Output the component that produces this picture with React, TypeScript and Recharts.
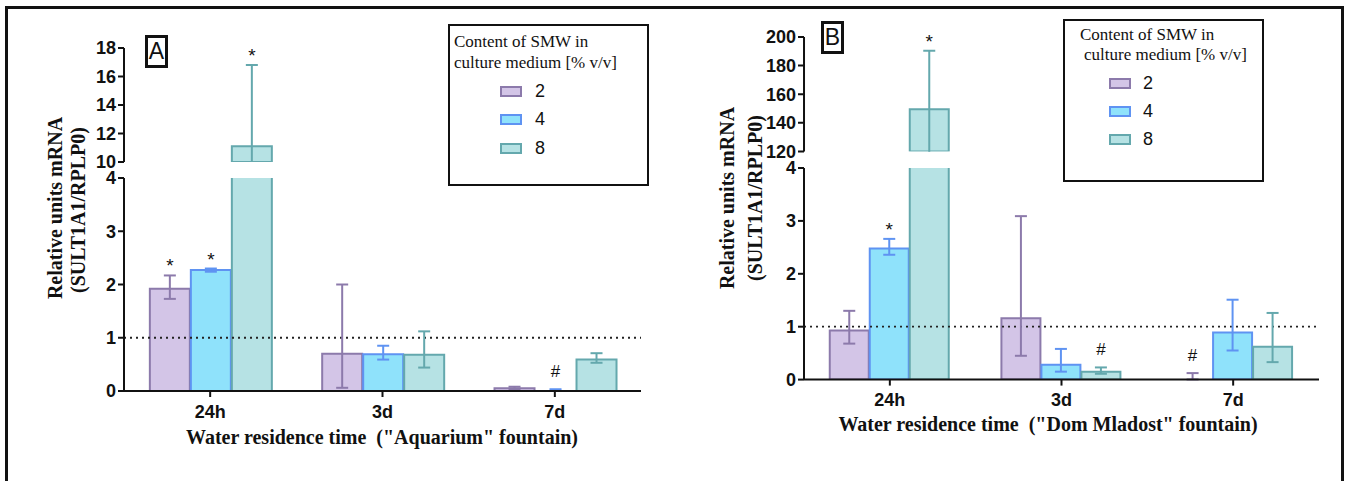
import React from 'react'
import { BarChart, Bar, XAxis, YAxis, ErrorBar, ReferenceLine, LabelList, Cell } from 'recharts'

const categories = ['24h', '3d', '7d']
const seriesNames = ['2', '4', '8']
const fills = ['#d3c5e7', '#8fe2fb', '#b6e2e4']
const strokes = ['#8c7aab', '#5f93f2', '#64a8ad']

// panel A - "Aquarium" fountain
const aMean2 = [1.92, 0.7, 0.05]
const aMean4 = [2.27, 0.69, 0.003]
const aMean8 = [11.1, 0.68, 0.59]
const aErr2 = [[0.19, 0.25], [0.64, 1.3], [0.02, 0.03]]
const aErr4 = [[0.03, 0.03], [0.1, 0.16], [0, 0.03]]
const aErr8 = [[5.7, 5.7], [0.24, 0.44], [0.06, 0.12]]
const aMarks2 = ['*', '', '']
const aMarks4 = ['*', '', '#']
const aMarks8 = ['*', '', '']
const aLowTicks = [0, 1, 2, 3, 4]
const aHighTicks = [10, 12, 14, 16, 18]

// panel B - "Dom Mladost" fountain
const bMean2 = [0.93, 1.16, 0.003]
const bMean4 = [2.48, 0.28, 0.89]
const bMean8 = [149.4, 0.15, 0.62]
const bErr2 = [[0.25, 0.37], [0.71, 1.93], [0, 0.12]]
const bErr4 = [[0.12, 0.18], [0.13, 0.3], [0.34, 0.62]]
const bErr8 = [[41, 41], [0.04, 0.08], [0.29, 0.64]]
const bMarks2 = ['', '', '#']
const bMarks4 = ['*', '', '']
const bMarks8 = ['*', '#', '']
const bLowTicks = [0, 1, 2, 3, 4]
const bHighTicks = [120, 140, 160, 180, 200]

const YW = 60
const MT = 12
const MR = 8
const MB = 12
const XH = 44

const SANS = '"Liberation Sans", Arial, sans-serif'
const SERIF = '"Liberation Serif", "Times New Roman", serif'

function buildRows(means: number[][], errs: number[][][], marks: string[][], lo: number, hi: number) {
  return categories.map((cat, i) => {
    const row: any = { cat }
    means.forEach((m, s) => {
      const v = m[i]
      const show = v >= lo
      const top = v + errs[s][i][1]
      row[`v${s}`] = show ? v : null
      row[`e${s}`] = errs[s][i]
      row[`k${s}`] = show && marks[s][i] && top >= lo && top <= hi ? { mark: marks[s][i], top } : null
    })
    return row
  })
}

function Segment({ rows, domain, ticks, top, bottom, axisX, plotRight, lower }: any) {
  const plotH = bottom - top
  const width = YW + (plotRight - axisX) + MR
  const height = MT + plotH + (lower ? XH : MB)
  const [d0, d1] = domain
  const toY = (v: number) => MT + ((d1 - v) / (d1 - d0)) * plotH
  const clip = lower
    ? undefined
    : `polygon(0 0, 100% 0, 100% ${MT + plotH}px, ${YW + 1}px ${MT + plotH}px, ${YW + 1}px 100%, 0 100%)`

  const renderMark = (p: any) => {
    const val = p.value
    if (!val || !val.mark) return null
    const vb = p.viewBox || p
    const cx = vb.x + vb.width / 2
    const y = toY(val.top)
    return (
      <text
        x={cx}
        y={val.mark === '*' ? y - 3 : y - 12}
        textAnchor="middle"
        fontSize={val.mark === '*' ? 19 : 17}
        fontFamily={SANS}
        fill="#111"
      >
        {val.mark}
      </text>
    )
  }

  const tickFont = { fill: '#111', fontSize: 18, fontWeight: 700, fontFamily: SANS }

  return (
    <div style={{ position: 'absolute', left: axisX - YW, top: top - MT, width, height, clipPath: clip }}>
      <BarChart
        width={width}
        height={height}
        data={rows}
        margin={{ top: MT, right: MR, left: 0, bottom: lower ? 0 : MB }}
        barCategoryGap="15%"
        barGap={1}
      >
        <XAxis
          dataKey="cat"
          hide={!lower}
          height={XH}
          tickSize={6}
          tickMargin={8}
          axisLine={{ stroke: '#111', strokeWidth: 2 }}
          tickLine={{ stroke: '#111', strokeWidth: 2 }}
          tick={tickFont}
        />
        <YAxis
          type="number"
          domain={domain}
          ticks={ticks}
          interval={0}
          allowDataOverflow
          width={YW}
          tickSize={6}
          axisLine={{ stroke: '#111', strokeWidth: 2 }}
          tickLine={{ stroke: '#111', strokeWidth: 2 }}
          tick={tickFont}
        />
        {lower && <ReferenceLine y={1} stroke="#222" strokeWidth={1.8} strokeDasharray="2 4" />}
        {seriesNames.map((n, s) => (
          <Bar
            key={n}
            dataKey={`v${s}`}
            name={n}
            fill={fills[s]}
            stroke={strokes[s]}
            strokeWidth={2}
            isAnimationActive={false}
          >
            {rows.map((r: any) => (
              // near-zero means: no visible outline, only the error bar shows
              <Cell key={r.cat} stroke={r[`v${s}`] != null && r[`v${s}`] < 0.01 ? 'none' : strokes[s]} />
            ))}
            <ErrorBar dataKey={`e${s}`} width={6} strokeWidth={2} stroke={strokes[s]} direction="y" />
            <LabelList dataKey={`k${s}`} content={renderMark} />
          </Bar>
        ))}
      </BarChart>
    </div>
  )
}

function Legend({ box, lines, swatchX, labelX, rowYs }: any) {
  return (
    <>
      <div
        style={{
          position: 'absolute',
          left: box[0],
          top: box[1],
          width: box[2],
          height: box[3],
          border: '2px solid #111',
          boxSizing: 'border-box',
        }}
      />
      {lines.map((l: any) => (
        <div
          key={l.text}
          style={{
            position: 'absolute',
            left: l.x,
            top: l.y - 10,
            lineHeight: '20px',
            fontSize: 17,
            fontFamily: SERIF,
            color: '#111',
            whiteSpace: 'nowrap',
          }}
        >
          {l.text}
        </div>
      ))}
      {seriesNames.map((n, s) => (
        <React.Fragment key={n}>
          <div
            style={{
              position: 'absolute',
              left: swatchX,
              top: rowYs[s] - 5.5,
              width: 22,
              height: 11,
              background: fills[s],
              border: `2px solid ${strokes[s]}`,
              boxSizing: 'border-box',
            }}
          />
          <div
            style={{
              position: 'absolute',
              left: labelX,
              top: rowYs[s] - 10,
              lineHeight: '20px',
              fontSize: 18,
              fontFamily: SANS,
              color: '#111',
            }}
          >
            {n}
          </div>
        </React.Fragment>
      ))}
    </>
  )
}

function PanelTag({ x, y, text }: any) {
  return (
    <div
      style={{
        position: 'absolute',
        left: x,
        top: y,
        width: 23,
        height: 33,
        border: '3px solid #111',
        boxSizing: 'border-box',
        fontFamily: SANS,
        fontSize: 23,
        lineHeight: '27px',
        textAlign: 'center',
        color: '#111',
      }}
    >
      {text}
    </div>
  )
}

export default function App() {
  const aMeans = [aMean2, aMean4, aMean8]
  const aErrs = [aErr2, aErr4, aErr8]
  const aMarks = [aMarks2, aMarks4, aMarks8]
  const bMeans = [bMean2, bMean4, bMean8]
  const bErrs = [bErr2, bErr4, bErr8]
  const bMarks = [bMarks2, bMarks4, bMarks8]

  const aLow = buildRows(aMeans, aErrs, aMarks, 0, 4)
  const aHigh = buildRows(aMeans, aErrs, aMarks, 10, 18)
  const bLow = buildRows(bMeans, bErrs, bMarks, 0, 4)
  const bHigh = buildRows(bMeans, bErrs, bMarks, 120, 200)

  const titleStyle = { fontFamily: SERIF, fontWeight: 700, fontSize: 20, fill: '#111' }

  return (
    <div style={{ position: 'absolute', left: 0, top: 0, width: 1348, height: 481, background: '#fff', overflow: 'hidden' }}>
      <div
        style={{
          position: 'absolute',
          left: 5,
          top: 6,
          width: 1339,
          height: 520,
          border: '3px solid #111',
          boxSizing: 'border-box',
        }}
      />

      <Segment rows={aHigh} domain={[10, 18]} ticks={aHighTicks} top={48} bottom={162} axisX={124} plotRight={641} />
      <Segment rows={aLow} domain={[0, 4]} ticks={aLowTicks} top={178} bottom={391} axisX={124} plotRight={641} lower />
      <Segment rows={bHigh} domain={[120, 200]} ticks={bHighTicks} top={37.3} bottom={151.7} axisX={804} plotRight={1319} />
      <Segment rows={bLow} domain={[0, 4]} ticks={bLowTicks} top={167.7} bottom={379.3} axisX={804} plotRight={1319} lower />

      <svg width={1348} height={481} style={{ position: 'absolute', left: 0, top: 0, pointerEvents: 'none' }}>
        <text {...titleStyle} textAnchor="middle" dominantBaseline="central" transform="translate(55,208) rotate(-90)">
          Relative units mRNA
        </text>
        <text {...titleStyle} textAnchor="middle" dominantBaseline="central" transform="translate(78,210) rotate(-90)">
          (SULT1A1/RPLP0)
        </text>
        <text {...titleStyle} textAnchor="middle" dominantBaseline="central" x={382} y={437}>
          {'Water residence time\u00a0 ("Aquarium" fountain)'}
        </text>
        <text {...titleStyle} textAnchor="middle" dominantBaseline="central" transform="translate(727,198) rotate(-90)">
          Relative units mRNA
        </text>
        <text {...titleStyle} textAnchor="middle" dominantBaseline="central" transform="translate(755,198) rotate(-90)">
          (SULT1A1/RPLP0)
        </text>
        <text {...titleStyle} textAnchor="middle" dominantBaseline="central" x={1048} y={424}>
          {'Water residence time\u00a0 ("Dom Mladost" fountain)'}
        </text>
      </svg>

      <PanelTag x={145} y={35} text="A" />
      <PanelTag x={821} y={21} text="B" />

      <Legend
        box={[448, 24, 201, 162]}
        lines={[
          { text: 'Content of SMW in', x: 454, y: 42 },
          { text: 'culture medium [% v/v]', x: 454, y: 63 },
        ]}
        swatchX={500}
        labelX={535}
        rowYs={[91, 119, 148]}
      />
      <Legend
        box={[1063, 19, 201, 163]}
        lines={[
          { text: 'Content of SMW in', x: 1080, y: 35 },
          { text: 'culture medium [% v/v]', x: 1084, y: 55 },
        ]}
        swatchX={1109}
        labelX={1143}
        rowYs={[83, 111, 139]}
      />
    </div>
  )
}
